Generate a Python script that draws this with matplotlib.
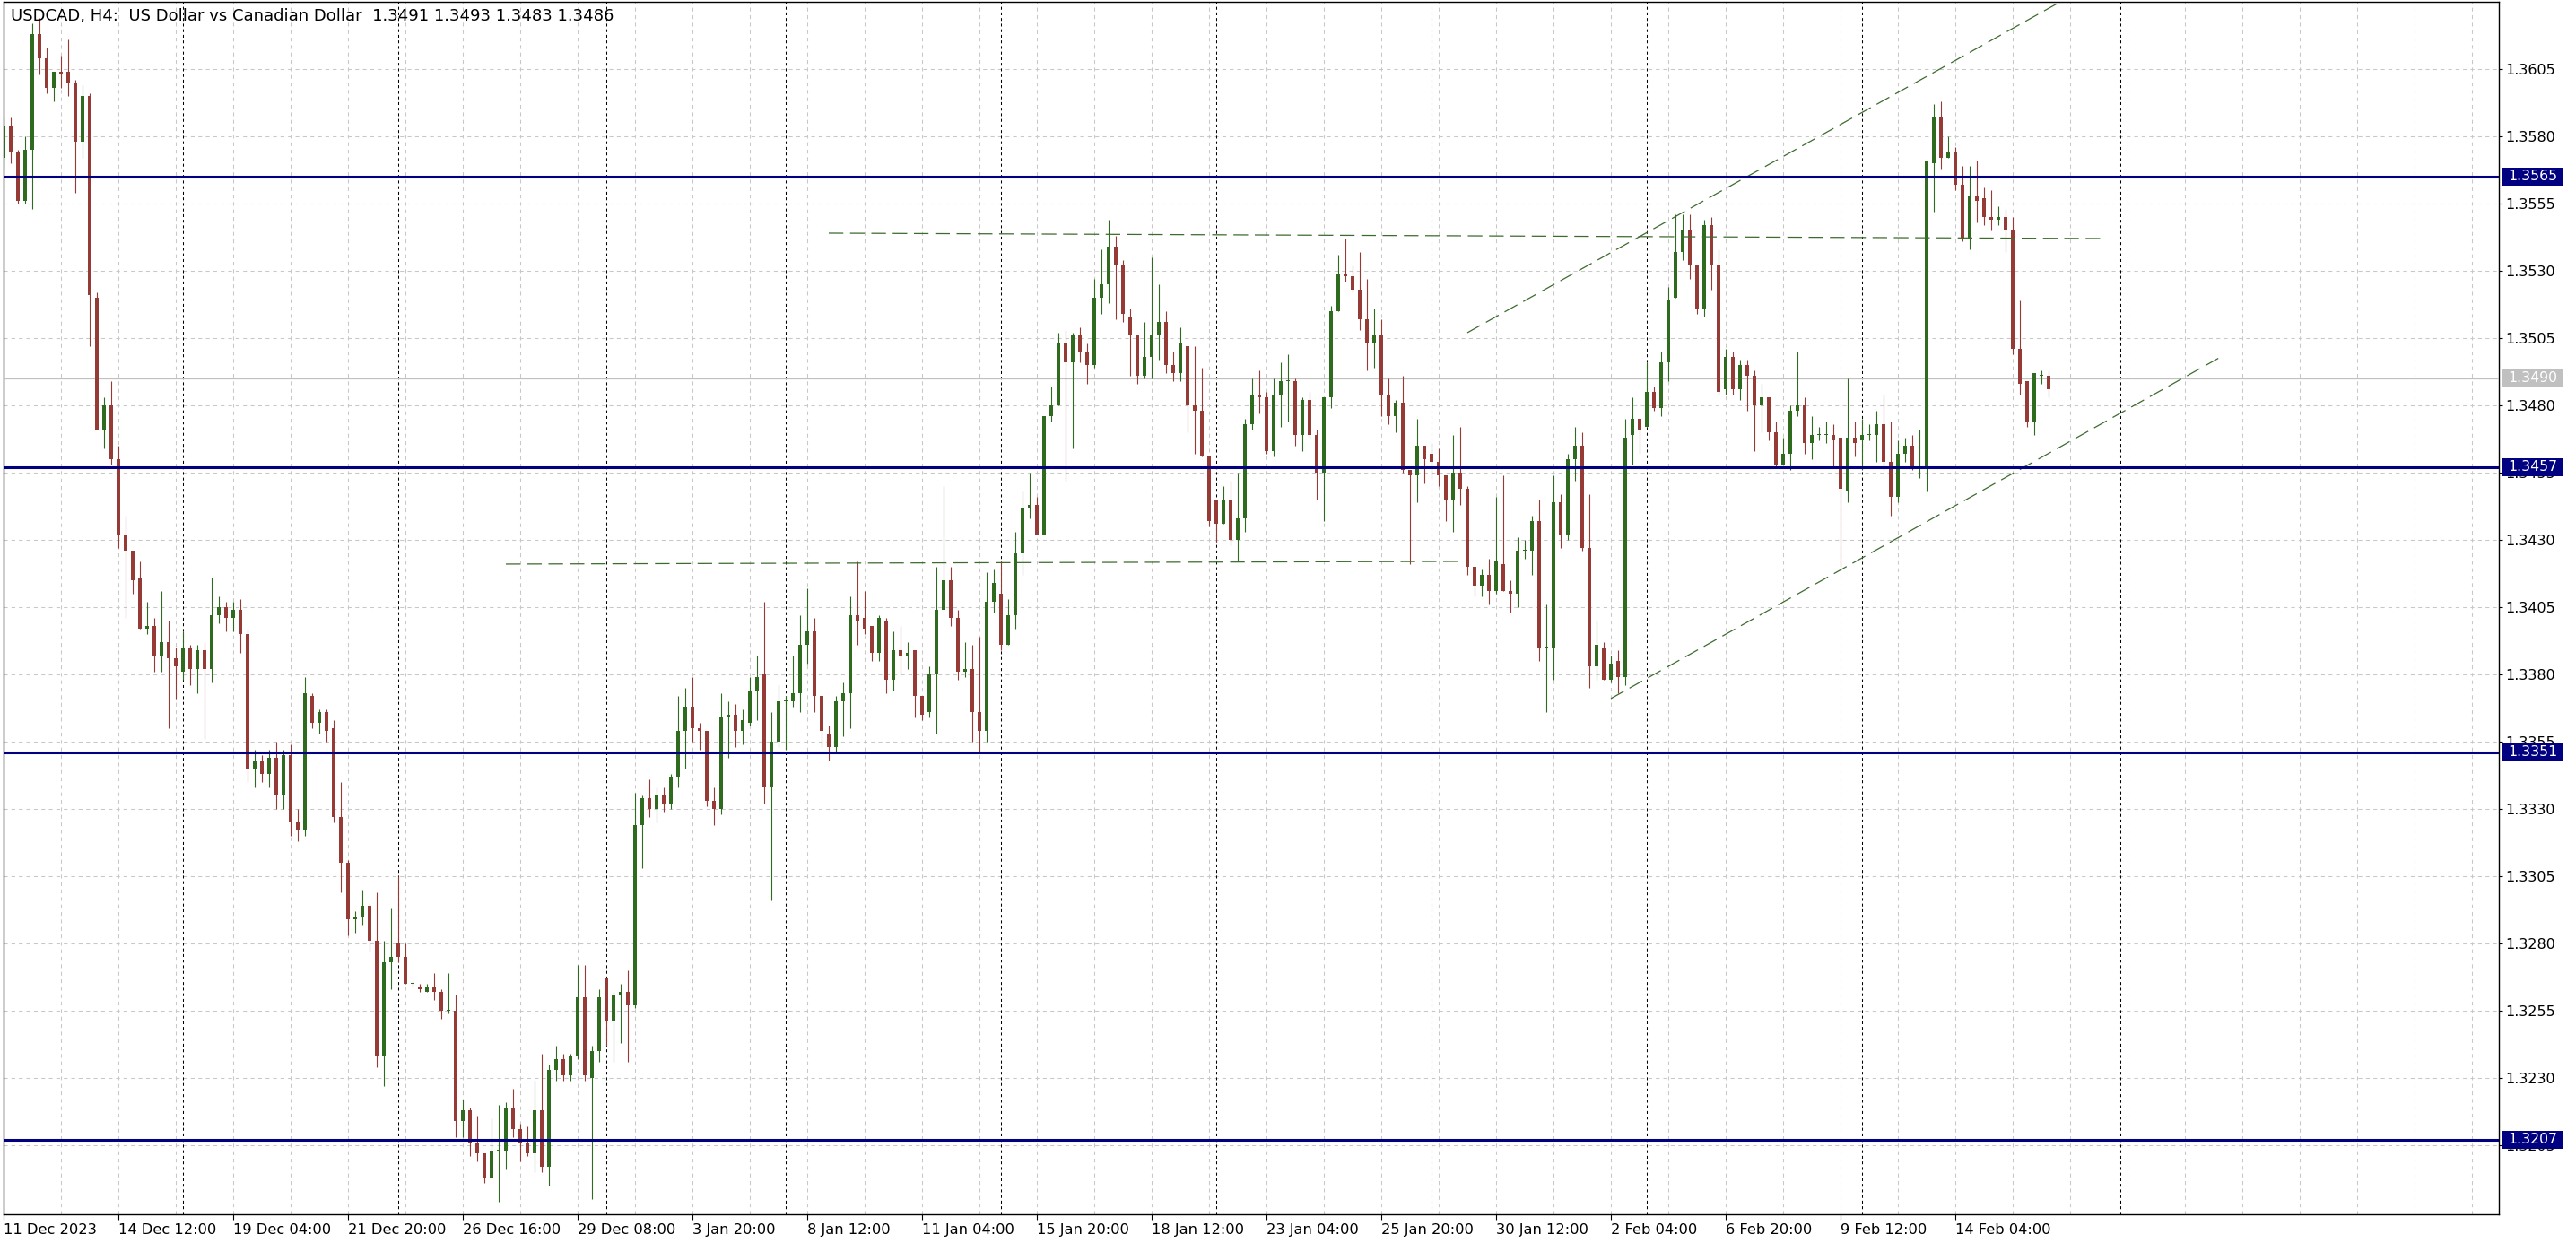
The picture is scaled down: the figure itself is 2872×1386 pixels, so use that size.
import numpy as np
import matplotlib
matplotlib.use("Agg")
import matplotlib.pyplot as plt
import matplotlib.transforms as mtrans
from matplotlib.patches import Rectangle

# ---- data (bar index 0 = first visible bar) ----
opens = [
    1.3572, 1.3584, 1.3574, 1.3556, 1.3575, 1.3618, 1.3609, 1.3598, 1.3604, 1.3604,
    1.3600, 1.3578, 1.3595, 1.3520, 1.3471, 1.3480, 1.3460, 1.3432, 1.3426, 1.3416,
    1.3397, 1.3398, 1.3387, 1.3392, 1.3386, 1.3381, 1.3390, 1.3382, 1.3389, 1.3382,
    1.3402, 1.3405, 1.3401, 1.3404, 1.3395, 1.3345, 1.3348, 1.3343, 1.3349, 1.3335,
    1.3350, 1.3325, 1.3322, 1.3372, 1.3362, 1.3366, 1.3360, 1.3327, 1.3310, 1.3289,
    1.3290, 1.3294, 1.3281, 1.3238, 1.3273, 1.3280, 1.3275, 1.3265, 1.3264, 1.3262,
    1.3264, 1.3262, 1.3255, 1.3255, 1.3214, 1.3218, 1.3206, 1.3202, 1.3193, 1.3203,
    1.3203, 1.3219, 1.3211, 1.3206, 1.3202, 1.3218, 1.3197, 1.3233, 1.3237, 1.3231,
    1.3238, 1.3260, 1.3230, 1.3240, 1.3267, 1.3251, 1.3261, 1.3262, 1.3257, 1.3324,
    1.3334, 1.3330, 1.3335, 1.3332, 1.3342, 1.3359, 1.3368, 1.3360, 1.3359, 1.3333,
    1.3330, 1.3364, 1.3365, 1.3359, 1.3362, 1.3374, 1.3380, 1.3338, 1.3355, 1.3370,
    1.3370, 1.3373, 1.3391, 1.3396, 1.3372, 1.3358, 1.3353, 1.3370, 1.3373, 1.3402,
    1.3401, 1.3398, 1.3388, 1.3400, 1.3378, 1.3389, 1.3387, 1.3389, 1.3372, 1.3366,
    1.3380, 1.3404, 1.3415, 1.3401, 1.3381, 1.3382, 1.3366, 1.3359, 1.3407, 1.3410,
    1.3391, 1.3402, 1.3425, 1.3442, 1.3443, 1.3432, 1.3476, 1.3480, 1.3503, 1.3496,
    1.3506, 1.3500, 1.3495, 1.3520, 1.3525, 1.3539, 1.3532, 1.3513, 1.3506, 1.3491,
    1.3498, 1.3506, 1.3511, 1.3495, 1.3492, 1.3502, 1.3480, 1.3478, 1.3461, 1.3445,
    1.3436, 1.3445, 1.3430, 1.3438, 1.3473, 1.3484, 1.3483, 1.3463, 1.3484, 1.3489,
    1.3489, 1.3469, 1.3482, 1.3469, 1.3455, 1.3483, 1.3515, 1.3529, 1.3528, 1.3523,
    1.3512, 1.3503, 1.3506, 1.3484, 1.3476, 1.3481, 1.3456, 1.3454, 1.3465, 1.3462,
    1.3459, 1.3454, 1.3445, 1.3455, 1.3449, 1.3420, 1.3413, 1.3417, 1.3411, 1.3421,
    1.3411, 1.3410, 1.3426, 1.3426, 1.3437, 1.3390, 1.3390, 1.3444, 1.3432, 1.3460,
    1.3465, 1.3427, 1.3383, 1.3390, 1.3378, 1.3385, 1.3379, 1.3469, 1.3475, 1.3472,
    1.3485, 1.3479, 1.3496, 1.3520, 1.3537, 1.3545, 1.3532, 1.3516, 1.3547, 1.3532,
    1.3486, 1.3498, 1.3486, 1.3495, 1.3491, 1.3480, 1.3483, 1.3470, 1.3458, 1.3462,
    1.3478, 1.3480, 1.3466, 1.3469, 1.3469, 1.3469, 1.3468, 1.3448, 1.3468, 1.3467,
    1.3469, 1.3469, 1.3473, 1.3459, 1.3446, 1.3462, 1.3465, 1.3457, 1.3457, 1.3570,
    1.3587, 1.3572, 1.3574, 1.3562, 1.3542, 1.3558, 1.3557, 1.3550, 1.3549, 1.3550,
    1.3545, 1.3501, 1.3489, 1.3474, 1.3491, 1.3491,
]
highs = [
    1.3587, 1.3587, 1.3575, 1.3580, 1.3622, 1.3624, 1.3613, 1.3604, 1.3610, 1.3616,
    1.3601, 1.3599, 1.3596, 1.3522, 1.3483, 1.3489, 1.3465, 1.3439, 1.3426, 1.3422,
    1.3407, 1.3401, 1.3411, 1.3400, 1.3390, 1.3396, 1.3391, 1.3391, 1.3392, 1.3416,
    1.3409, 1.3407, 1.3407, 1.3408, 1.3397, 1.3352, 1.3350, 1.3352, 1.3355, 1.3352,
    1.3354, 1.3330, 1.3379, 1.3373, 1.3367, 1.3367, 1.3363, 1.3340, 1.3311, 1.3292,
    1.3300, 1.3295, 1.3299, 1.3281, 1.3293, 1.3305, 1.3280, 1.3266, 1.3265, 1.3265,
    1.3269, 1.3263, 1.3269, 1.3261, 1.3222, 1.3219, 1.3216, 1.3202, 1.3215, 1.3220,
    1.3221, 1.3226, 1.3213, 1.3212, 1.3229, 1.3239, 1.3235, 1.3242, 1.3239, 1.3239,
    1.3272, 1.3272, 1.3242, 1.3263, 1.3267, 1.3262, 1.3265, 1.3270, 1.3336, 1.3335,
    1.3341, 1.3338, 1.3338, 1.3343, 1.3372, 1.3375, 1.3379, 1.3362, 1.3359, 1.3338,
    1.3373, 1.3370, 1.3369, 1.3367, 1.3379, 1.3387, 1.3407, 1.3366, 1.3376, 1.3372,
    1.3387, 1.3402, 1.3412, 1.3401, 1.3372, 1.3361, 1.3372, 1.3377, 1.3409, 1.3422,
    1.3411, 1.3398, 1.3402, 1.3401, 1.3396, 1.3398, 1.3392, 1.3389, 1.3372, 1.3383,
    1.3420, 1.3450, 1.3420, 1.3404, 1.3392, 1.3391, 1.3394, 1.3418, 1.3419, 1.3422,
    1.3408, 1.3433, 1.3448, 1.3455, 1.3446, 1.3476, 1.3487, 1.3507, 1.3508, 1.3507,
    1.3509, 1.3503, 1.3527, 1.3538, 1.3549, 1.3543, 1.3534, 1.3516, 1.3506, 1.3511,
    1.3535, 1.3525, 1.3515, 1.3500, 1.3509, 1.3502, 1.3502, 1.3494, 1.3461, 1.3445,
    1.3450, 1.3452, 1.3455, 1.3475, 1.3490, 1.3493, 1.3485, 1.3490, 1.3496, 1.3499,
    1.3490, 1.3483, 1.3485, 1.3471, 1.3483, 1.3517, 1.3536, 1.3542, 1.3532, 1.3537,
    1.3527, 1.3516, 1.3512, 1.3490, 1.3482, 1.3491, 1.3456, 1.3475, 1.3465, 1.3466,
    1.3464, 1.3454, 1.3469, 1.3472, 1.3450, 1.3420, 1.3419, 1.3423, 1.3446, 1.3454,
    1.3415, 1.3431, 1.3430, 1.3439, 1.3445, 1.3406, 1.3454, 1.3447, 1.3462, 1.3472,
    1.3470, 1.3447, 1.3400, 1.3392, 1.3387, 1.3389, 1.3475, 1.3483, 1.3475, 1.3496,
    1.3487, 1.3500, 1.3524, 1.3551, 1.3551, 1.3551, 1.3532, 1.3549, 1.3550, 1.3538,
    1.3501, 1.3500, 1.3497, 1.3497, 1.3493, 1.3488, 1.3483, 1.3474, 1.3468, 1.3480,
    1.3500, 1.3483, 1.3476, 1.3472, 1.3474, 1.3473, 1.3468, 1.3490, 1.3474, 1.3475,
    1.3473, 1.3478, 1.3484, 1.3474, 1.3467, 1.3468, 1.3469, 1.3471, 1.3571, 1.3592,
    1.3593, 1.3580, 1.3576, 1.3569, 1.3569, 1.3571, 1.3561, 1.3560, 1.3554, 1.3553,
    1.3550, 1.3519, 1.3489, 1.3492, 1.3493, 1.3493,
]
lows = [
    1.3568, 1.3570, 1.3555, 1.3555, 1.3553, 1.3603, 1.3596, 1.3593, 1.3598, 1.3595,
    1.3559, 1.3572, 1.3502, 1.3471, 1.3464, 1.3458, 1.3427, 1.3401, 1.3410, 1.3397,
    1.3395, 1.3381, 1.3381, 1.3360, 1.3371, 1.3378, 1.3376, 1.3373, 1.3356, 1.3377,
    1.3399, 1.3396, 1.3396, 1.3388, 1.3340, 1.3338, 1.3340, 1.3338, 1.3330, 1.3330,
    1.3320, 1.3318, 1.3320, 1.3360, 1.3358, 1.3355, 1.3325, 1.3299, 1.3283, 1.3284,
    1.3287, 1.3277, 1.3234, 1.3227, 1.3263, 1.3273, 1.3265, 1.3264, 1.3262, 1.3262,
    1.3259, 1.3252, 1.3254, 1.3208, 1.3208, 1.3201, 1.3199, 1.3191, 1.3193, 1.3184,
    1.3196, 1.3208, 1.3199, 1.3201, 1.3195, 1.3195, 1.3190, 1.3229, 1.3229, 1.3229,
    1.3237, 1.3229, 1.3185, 1.3236, 1.3242, 1.3236, 1.3243, 1.3236, 1.3256, 1.3308,
    1.3327, 1.3325, 1.3329, 1.3330, 1.3338, 1.3345, 1.3355, 1.3352, 1.3331, 1.3324,
    1.3328, 1.3349, 1.3353, 1.3354, 1.3361, 1.3363, 1.3332, 1.3296, 1.3353, 1.3352,
    1.3368, 1.3366, 1.3384, 1.3366, 1.3353, 1.3348, 1.3351, 1.3357, 1.3360, 1.3391,
    1.3395, 1.3385, 1.3385, 1.3373, 1.3374, 1.3380, 1.3382, 1.3364, 1.3363, 1.3364,
    1.3358, 1.3404, 1.3398, 1.3378, 1.3379, 1.3355, 1.3351, 1.3355, 1.3403, 1.3389,
    1.3391, 1.3397, 1.3417, 1.3438, 1.3432, 1.3432, 1.3474, 1.3480, 1.3452, 1.3464,
    1.3496, 1.3488, 1.3494, 1.3514, 1.3518, 1.3512, 1.3511, 1.3491, 1.3488, 1.3490,
    1.3490, 1.3497, 1.3492, 1.3489, 1.3489, 1.3470, 1.3462, 1.3461, 1.3435, 1.3429,
    1.3436, 1.3428, 1.3422, 1.3433, 1.3471, 1.3477, 1.3462, 1.3461, 1.3472, 1.3474,
    1.3465, 1.3463, 1.3468, 1.3445, 1.3437, 1.3479, 1.3515, 1.3526, 1.3522, 1.3508,
    1.3493, 1.3494, 1.3476, 1.3473, 1.3470, 1.3455, 1.3421, 1.3444, 1.3451, 1.3453,
    1.3450, 1.3437, 1.3433, 1.3443, 1.3417, 1.3409, 1.3409, 1.3406, 1.3410, 1.3411,
    1.3403, 1.3405, 1.3423, 1.3417, 1.3385, 1.3366, 1.3378, 1.3427, 1.3430, 1.3452,
    1.3426, 1.3375, 1.3378, 1.3378, 1.3377, 1.3373, 1.3376, 1.3458, 1.3462, 1.3472,
    1.3478, 1.3476, 1.3489, 1.3520, 1.3534, 1.3527, 1.3514, 1.3513, 1.3523, 1.3484,
    1.3484, 1.3484, 1.3482, 1.3478, 1.3463, 1.3470, 1.3467, 1.3457, 1.3458, 1.3456,
    1.3476, 1.3462, 1.3460, 1.3467, 1.3466, 1.3457, 1.3420, 1.3444, 1.3461, 1.3456,
    1.3467, 1.3459, 1.3456, 1.3439, 1.3444, 1.3459, 1.3456, 1.3453, 1.3448, 1.3552,
    1.3568, 1.3572, 1.3560, 1.3541, 1.3538, 1.3548, 1.3547, 1.3545, 1.3547, 1.3537,
    1.3499, 1.3484, 1.3472, 1.3469, 1.3488, 1.3483,
]
closes = [
    1.3584, 1.3574, 1.3556, 1.3575, 1.3618, 1.3609, 1.3598, 1.3604, 1.3603, 1.3600,
    1.3578, 1.3595, 1.3521, 1.3471, 1.3480, 1.3460, 1.3432, 1.3426, 1.3415, 1.3397,
    1.3398, 1.3387, 1.3392, 1.3386, 1.3383, 1.3390, 1.3382, 1.3389, 1.3382, 1.3402,
    1.3405, 1.3401, 1.3404, 1.3395, 1.3345, 1.3348, 1.3343, 1.3349, 1.3335, 1.3350,
    1.3325, 1.3322, 1.3373, 1.3362, 1.3366, 1.3359, 1.3327, 1.3310, 1.3289, 1.3290,
    1.3294, 1.3281, 1.3238, 1.3273, 1.3275, 1.3275, 1.3265, 1.3265, 1.3263, 1.3264,
    1.3262, 1.3255, 1.3255, 1.3214, 1.3218, 1.3206, 1.3202, 1.3193, 1.3203, 1.3203,
    1.3219, 1.3211, 1.3206, 1.3202, 1.3218, 1.3197, 1.3233, 1.3237, 1.3231, 1.3238,
    1.3260, 1.3231, 1.3240, 1.3260, 1.3251, 1.3261, 1.3262, 1.3257, 1.3324, 1.3334,
    1.3330, 1.3335, 1.3332, 1.3342, 1.3359, 1.3368, 1.3360, 1.3359, 1.3333, 1.3330,
    1.3364, 1.3365, 1.3359, 1.3363, 1.3374, 1.3379, 1.3338, 1.3355, 1.3370, 1.3370,
    1.3373, 1.3391, 1.3396, 1.3372, 1.3359, 1.3353, 1.3370, 1.3373, 1.3402, 1.3400,
    1.3397, 1.3388, 1.3401, 1.3378, 1.3389, 1.3387, 1.3388, 1.3372, 1.3365, 1.3380,
    1.3404, 1.3415, 1.3401, 1.3381, 1.3382, 1.3366, 1.3359, 1.3407, 1.3414, 1.3391,
    1.3402, 1.3425, 1.3442, 1.3443, 1.3432, 1.3476, 1.3480, 1.3503, 1.3496, 1.3506,
    1.3500, 1.3495, 1.3520, 1.3525, 1.3539, 1.3532, 1.3514, 1.3506, 1.3491, 1.3498,
    1.3506, 1.3511, 1.3495, 1.3492, 1.3503, 1.3480, 1.3478, 1.3461, 1.3437, 1.3436,
    1.3445, 1.3430, 1.3438, 1.3473, 1.3484, 1.3483, 1.3463, 1.3484, 1.3489, 1.3489,
    1.3469, 1.3482, 1.3469, 1.3455, 1.3483, 1.3515, 1.3529, 1.3528, 1.3523, 1.3512,
    1.3503, 1.3506, 1.3484, 1.3476, 1.3481, 1.3456, 1.3454, 1.3465, 1.3460, 1.3459,
    1.3454, 1.3445, 1.3455, 1.3449, 1.3420, 1.3413, 1.3417, 1.3411, 1.3422, 1.3411,
    1.3410, 1.3426, 1.3426, 1.3437, 1.3390, 1.3390, 1.3444, 1.3432, 1.3460, 1.3465,
    1.3427, 1.3383, 1.3391, 1.3378, 1.3384, 1.3379, 1.3468, 1.3475, 1.3471, 1.3485,
    1.3479, 1.3496, 1.3519, 1.3537, 1.3545, 1.3532, 1.3516, 1.3547, 1.3532, 1.3485,
    1.3498, 1.3486, 1.3495, 1.3491, 1.3480, 1.3483, 1.3470, 1.3458, 1.3462, 1.3478,
    1.3480, 1.3466, 1.3469, 1.3469, 1.3469, 1.3467, 1.3449, 1.3468, 1.3466, 1.3469,
    1.3469, 1.3473, 1.3459, 1.3446, 1.3462, 1.3465, 1.3457, 1.3457, 1.3571, 1.3587,
    1.3572, 1.3574, 1.3562, 1.3542, 1.3558, 1.3556, 1.3550, 1.3549, 1.3550, 1.3545,
    1.3501, 1.3488, 1.3474, 1.3492, 1.3491, 1.3486,
]

date_labels = ["11 Dec 2023", "14 Dec 12:00", "19 Dec 04:00", "21 Dec 20:00",
               "26 Dec 16:00", "29 Dec 08:00", "3 Jan 20:00", "8 Jan 12:00",
               "11 Jan 04:00", "15 Jan 20:00", "18 Jan 12:00", "23 Jan 04:00",
               "25 Jan 20:00", "30 Jan 12:00", "2 Feb 04:00", "6 Feb 20:00",
               "9 Feb 12:00", "14 Feb 04:00"]
label_bars = [0, 16, 32, 48, 64, 80, 96, 112, 128, 144, 160, 176, 192, 208, 224, 240, 256, 272]
week_starts = [25, 55, 84, 109, 139, 169, 199, 229, 259, 295]

levels = [1.3565, 1.3457, 1.3351, 1.3207]
bid = 1.3490

# (bar, price) end points of the hand drawn lines
flat_top = [(115, 1.3544), (292.5, 1.3542)]
flat_low = [(70, 1.3421), (203, 1.3422)]
chan_up = [(204, 1.3507), (290, 1.3635)]
chan_dn = [(224, 1.3371), (309, 1.3498)]

GREEN = "#2e6b1f"
RED = "#963a35"
NAVY = "#000080"
GRID = "#c8c8c8"
LINE = "#3d6b2e"

o = np.array(opens)
h = np.array(highs)
l = np.array(lows)
c = np.array(closes)
x = np.arange(len(c))
col = np.where(c >= o, GREEN, RED)

fig = plt.figure(figsize=(28.72, 13.86), dpi=100)
ax = fig.add_axes([3.5 / 2872, 32 / 1386, 2782.5 / 2872, 1352 / 1386])
ax.set_xlim(-0.06, 347.75)
ax.set_ylim(1.31793, 1.3630)

# grid
yt = np.round(np.arange(1.3205, 1.36051, 0.0025), 4)
for gy in yt:
    ax.axhline(gy, color=GRID, lw=0.75, ls=(0, (4, 4)), zorder=0)
for gx in range(8, 348, 8):
    ax.axvline(gx, color=GRID, lw=0.75, ls=(0, (4, 4)), zorder=0)
for w in week_starts:
    ax.axvline(w, color="black", lw=0.75, ls=(0, (3, 3)), zorder=1)

# candles
ax.vlines(x, l, h, colors=col, lw=0.8, zorder=4)
ax.bar(x, np.maximum(np.abs(c - o), 0.00004), bottom=np.minimum(o, c),
       width=0.62, color=col, linewidth=0, zorder=5)

# drawn objects
for seg in (flat_top, flat_low, chan_up, chan_dn):
    (x0, y0), (x1, y1) = seg
    ax.plot([x0, x1], [y0, y1], color=LINE, lw=0.9, ls=(0, (13, 6)), zorder=6)

ax.axhline(bid, color="#c0c0c0", lw=0.9, zorder=3)
for lv in levels:
    ax.axhline(lv, color=NAVY, lw=2.2, zorder=7)

# price tags on the right scale
tr = mtrans.blended_transform_factory(ax.transAxes, ax.transData)


def price_tag(y, face):
    ax.add_patch(Rectangle((1.0014, y - 0.00034), 0.0241, 0.00068, transform=tr,
                           facecolor=face, edgecolor="none", clip_on=False, zorder=8))
    ax.text(1.0014 + 0.0241 / 2, y, f"{y:.4f}", transform=tr, color="white",
            ha="center", va="center", fontsize=11.3, clip_on=False, zorder=9)


for lv in levels:
    price_tag(lv, NAVY)
price_tag(bid, "#c0c0c0")

# axes / ticks
ax.yaxis.tick_right()
ax.set_yticks(yt)
ax.set_yticklabels([f"{v:.4f}" for v in yt])
ax.set_xticks(label_bars)
ax.set_xticklabels(date_labels)
for t in ax.get_xticklabels():
    t.set_ha("left")
ax.tick_params(axis="y", direction="out", length=3, width=0.8, pad=2, labelsize=11.5)
ax.tick_params(axis="x", direction="out", length=4, width=0.8, pad=3, labelsize=11.7)
for sp in ax.spines.values():
    sp.set_color("black")
    sp.set_linewidth(1.0)

title = (f"USDCAD, H4:  US Dollar vs Canadian Dollar  "
         f"{opens[-1]:.4f} {highs[-1]:.4f} {lows[-1]:.4f} {closes[-1]:.4f}")
ax.text(0.003, 0.995, title, transform=ax.transAxes, ha="left", va="top",
        fontsize=13, color="black", zorder=10)

fig.savefig("out.png", dpi=100)
